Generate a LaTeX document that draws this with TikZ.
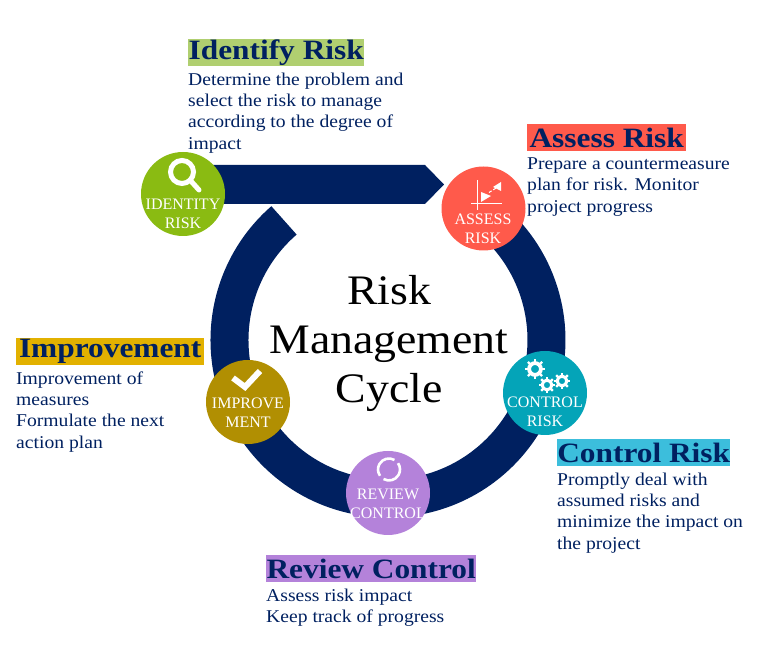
\documentclass[tikz,border=0pt]{standalone}
\usepackage{fontspec}
\setmainfont{Liberation Serif}
\newfontfamily\bodyfont[FakeStretch=1.09]{Liberation Serif}
\newfontfamily\headfont[FakeStretch=1.12]{Liberation Serif}
\definecolor{navy}{HTML}{002060}
\definecolor{identifygreen}{HTML}{8ABB12}
\definecolor{identifylight}{HTML}{B0CF70}
\definecolor{assessred}{HTML}{FF5A4B}
\definecolor{controlteal}{HTML}{04A4B8}
\definecolor{controllight}{HTML}{3CBEDC}
\definecolor{reviewpurple}{HTML}{B482DA}
\definecolor{improvegold}{HTML}{B18F02}
\definecolor{improvelight}{HTML}{E2B100}
\newcommand{\gearicon}[3]{%
	\draw[white, line width=#3*0.4] (#1, #2) circle (#3*0.62);
	\foreach \a in {0, 45, ..., 315}
		\draw[white, line width=2.2] (#1, #2) ++(\a:#3*0.7) -- ++(\a:#3*0.36);
}
\begin{document}
\begin{tikzpicture}[x=1pt, y=1pt]
	\tikzset{nd/.style={circle, minimum size=84pt, inner sep=0pt}};
	\tikzset{captxt/.style={white, align=center, inner sep=0pt, font=\fontsize{16}{19}\selectfont}};
	\tikzset{headbar/.style={anchor=west, inner sep=0pt, minimum height=27pt, text=navy, font=\fontsize{28}{28}\headfont\bfseries\selectfont}};
	\tikzset{bodytxt/.style={anchor=north west, align=left, inner sep=0pt, text=navy, font=\fontsize{18}{21.3}\bodyfont\selectfont}};
	\tikzset{band/.style={draw=navy, line width=38pt}};
	\useasboundingbox (0, 0) rectangle (768, 660);

	\coordinate (ringend) at (284.0, 439.6);
	\coordinate (bandstart) at (200, 475.5);

	% the ring and the top arrow
	\draw[band] (ringend) arc[start angle=131, end angle=405, radius=158.5];
	\fill[navy] (bandstart) ++(0, 19.5) -- ++(225, 0) -- ++(19, -19.5) -- ++(-19, -19.5) -- ++(-225, 0) -- cycle;

	\node[nd, fill=identifygreen] (identify) at (183, 466) {};
	\node[nd, fill=assessred] (assess) at (483.5, 451.5) {};
	\node[nd, fill=controlteal] (control) at (545, 267) {};
	\node[nd, fill=reviewpurple] (review) at (388, 167) {};
	\node[nd, fill=improvegold] (improve) at (248, 258) {};

	\node[captxt] (identifytxt) at (183, 446.5) {IDENTITY\\RISK};
	\node[captxt] (assesstxt) at (483, 431) {ASSESS\\RISK};
	\node[captxt] (controltxt) at (545, 248.5) {CONTROL\\RISK};
	\node[captxt] (improvetxt) at (248, 247) {IMPROVE\\MENT};
	\begin{scope}
		\clip (350, 120) rectangle (421, 200);
		\node[captxt] (reviewtxt) at (388, 156.5) {REVIEW\\CONTROL};
	\end{scope}

	\node[font=\fontsize{42}{49}\bodyfont\selectfont, align=center, inner sep=0pt] (title) at (389, 317) {Risk\\Management\\Cycle};

	% magnifier
	\draw[white, line width=5pt] (182, 488) circle (11.5);
	\draw[white, line width=5pt, line cap=round] (190, 480) -- (199, 470);

	% chart
	\draw[white, line width=0.6pt] (477, 480) -- (477, 450);
	\draw[white, line width=0.6pt] (471, 457) -- (502, 457);
	\fill[white] (481, 468) -- (491, 464) -- (481, 458) -- cycle;
	\fill[white] (501, 478) -- (501, 469) -- (493, 473) -- cycle;
	\draw[white, line width=1pt, densely dashed] (489, 467.5) -- (497, 472.5);

	% gears
	\gearicon{535}{291}{9.5}
	\gearicon{547}{275}{7.8}
	\gearicon{562}{279}{7.8}

	% check mark
	\draw[white, line width=6pt] (233, 282) -- (245, 273) -- (260, 289);

	% cycle arrows
	\draw[white, line width=2.6pt] (389, 190.5) ++(60:11) arc[start angle=60, end angle=215, radius=11];
	\draw[white, line width=2.6pt] (389, 190.5) ++(240:11) arc[start angle=240, end angle=395, radius=11];

	% headings
	\node[headbar, fill=identifylight, minimum width=176pt] (identifybar) at (188, 607.5) {Identify Risk};
	\node[headbar, fill=assessred, minimum width=159pt] (assessbar) at (527, 522.5) {Assess Risk};
	\node[headbar, fill=improvelight, minimum width=188pt] (improvebar) at (16, 308.5) {Improvement};
	\node[headbar, fill=controllight, minimum width=173pt] (controlbar) at (557, 207.5) {Control Risk};
	\node[headbar, fill=reviewpurple, minimum width=210pt] (reviewbar) at (266, 91.5) {Review Control};

	\node[bodytxt] (identifybody) at (188, 587.5) {Determine the problem and\\select the risk to manage\\according to the degree of\\impact};
	\node[bodytxt] (assessbody) at (527, 502.5) {Prepare a countermeasure\\plan for risk. Monitor\\project progress};
	\node[bodytxt] (improvebody) at (16, 288.5) {Improvement of\\measures\\Formulate the next\\action plan};
	\node[bodytxt] (controlbody) at (557, 187.5) {Promptly deal with\\assumed risks and\\minimize the impact on\\the project};
	\node[bodytxt] (reviewbody) at (266, 71.5) {Assess risk impact\\Keep track of progress};
\end{tikzpicture}
\end{document}
